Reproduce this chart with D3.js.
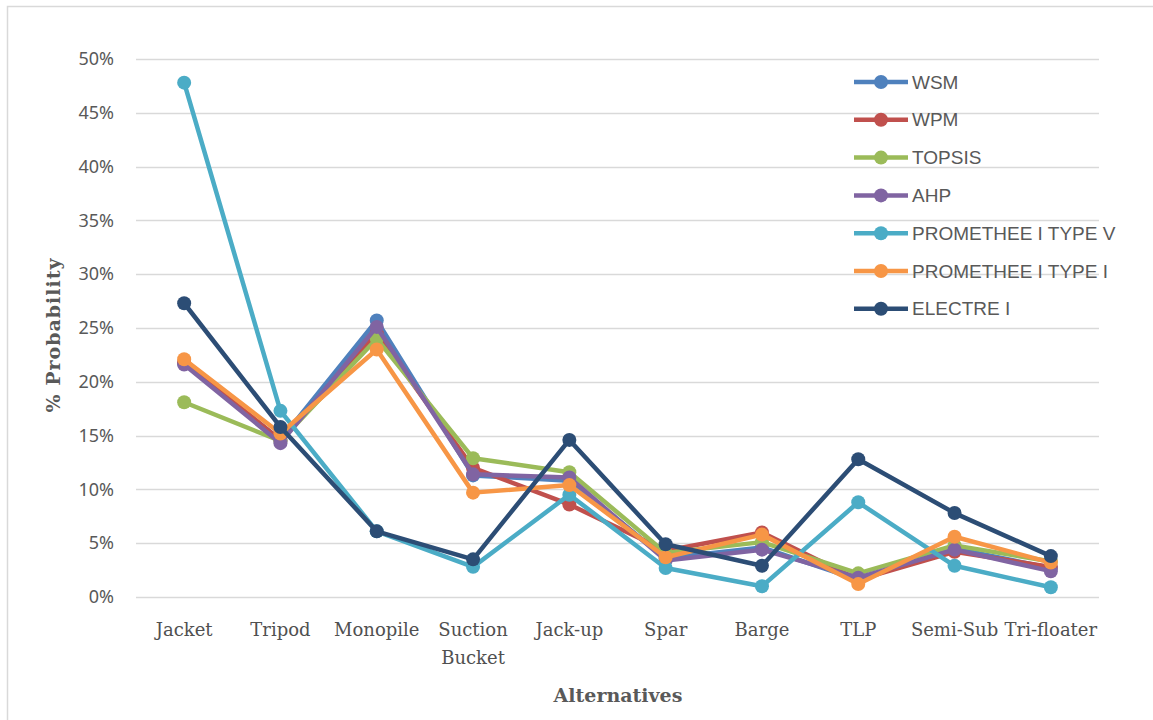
<!DOCTYPE html>
<html><head><meta charset="utf-8">
<script src="https://cdn.jsdelivr.net/npm/d3@7"></script>
<style>body{margin:0;background:#fff;}svg{display:block;}</style>
</head><body>
<svg id="c" width="1153" height="720"></svg>
<script>
const categories = ["Jacket","Tripod","Monopile","Suction Bucket","Jack-up","Spar","Barge","TLP","Semi-Sub","Tri-floater"];
const seriesNames = ["WSM","WPM","TOPSIS","AHP","PROMETHEE I TYPE V","PROMETHEE I TYPE I","ELECTRE I"];
const colors = ["#4F81BD","#C0504D","#9BBB59","#8064A2","#4BACC6","#F79646","#2C4D75"];
const wsm      = [21.7, 14.6, 25.7, 11.3, 10.8, 3.6, 4.6, 1.6, 4.5, 2.7];
const wpm      = [21.8, 14.6, 24.5, 12.0, 8.6, 4.3, 6.0, 1.6, 4.2, 2.8];
const topsis   = [18.1, 14.5, 24.0, 12.9, 11.6, 4.1, 5.1, 2.2, 4.8, 3.3];
const ahp      = [21.6, 14.3, 25.1, 11.4, 11.1, 3.4, 4.4, 1.8, 4.4, 2.4];
const promV    = [47.8, 17.3, 6.1, 2.8, 9.5, 2.7, 1.0, 8.8, 2.9, 0.9];
const promI    = [22.1, 15.2, 23.0, 9.7, 10.4, 3.7, 5.8, 1.2, 5.6, 3.2];
const electre  = [27.3, 15.8, 6.1, 3.5, 14.6, 4.9, 2.9, 12.8, 7.8, 3.8];
const yTicks = [0,5,10,15,20,25,30,35,40,45,50];
const allSeries = [wsm, wpm, topsis, ahp, promV, promI, electre];

(function(){
const svg = d3.select("#c");
const pL = 136, pR = 1099, pT = 59, pB = 597;
const x = d3.scaleBand().domain(categories).range([pL, pR]);
const y = d3.scaleLinear().domain([0, 50]).range([pB, pT]);

// frame
svg.append("path").attr("d","M7.5,720 L7.5,6.5 L1153,6.5").attr("fill","none").attr("stroke","#d9d9d9").attr("stroke-width",1.5);

// grid
svg.append("g").selectAll("line").data(yTicks).join("line")
  .attr("x1", pL).attr("x2", pR)
  .attr("y1", d => Math.round(y(d)) + 0.5).attr("y2", d => Math.round(y(d)) + 0.5)
  .attr("stroke", "#d9d9d9").attr("stroke-width", 1.5);

// y ticks
const yAxis = d3.axisLeft(y).tickValues(yTicks).tickFormat(d => d + "%").tickSize(0).tickPadding(0);
const gy = svg.append("g").attr("transform", `translate(114,0)`).call(yAxis);
gy.select(".domain").remove();
gy.selectAll("text").attr("font-family","Noto Sans, Open Sans, sans-serif").attr("font-size", 18).attr("fill","#595959");

// x ticks
const gx = svg.append("g").attr("transform", `translate(0,${pB})`).call(d3.axisBottom(x).tickSize(0).tickPadding(0));
gx.select(".domain").remove();
gx.selectAll("text").each(function(d){
  const t = d3.select(this);
  t.text(null);
  const words = d === "Suction Bucket" ? ["Suction","Bucket"] : [d];
  words.forEach((w,i) => t.append("tspan").attr("x",0).attr("y", 39 + i*28).text(w));
}).attr("font-family","DejaVu Serif, serif").attr("font-size", 18).attr("fill","#505050").attr("dy", null);

// lines
const line = d3.line().x((d,i) => x(categories[i]) + x.bandwidth()/2).y(d => y(d));
allSeries.forEach((s, k) => {
  const g = svg.append("g");
  g.append("path").datum(s).attr("d", line).attr("fill","none").attr("stroke", colors[k]).attr("stroke-width", 4.5).attr("stroke-linejoin","round");
  g.selectAll("circle").data(s).join("circle")
    .attr("cx", (d,i) => x(categories[i]) + x.bandwidth()/2).attr("cy", d => y(d)).attr("r", 7).attr("fill", colors[k]);
});

// legend
const leg = svg.append("g");
seriesNames.forEach((n, i) => {
  const yy = 82 + i * 37.8;
  leg.append("line").attr("x1", 854).attr("x2", 908).attr("y1", yy).attr("y2", yy).attr("stroke", colors[i]).attr("stroke-width", 4.5);
  leg.append("circle").attr("cx", 881).attr("cy", yy).attr("r", 7).attr("fill", colors[i]);
  leg.append("text").attr("x", 912).attr("y", yy).attr("dy","0.35em").text(n)
    .attr("font-family","Liberation Sans, Arial, sans-serif").attr("font-size", 19).attr("fill","#595959");
});

// axis titles
svg.append("text").attr("x", 618).attr("y", 702).attr("text-anchor","middle").text("Alternatives")
  .attr("font-family","DejaVu Serif, serif").attr("font-weight","bold").attr("font-size", 19).attr("fill","#595959");
svg.append("text").attr("transform","translate(60,335) rotate(-90)").attr("text-anchor","middle").text("% Probability")
  .attr("font-family","DejaVu Serif, serif").attr("font-weight","bold").attr("font-size", 19).attr("letter-spacing", 1).attr("fill","#595959");
})();
</script>
</body></html>
